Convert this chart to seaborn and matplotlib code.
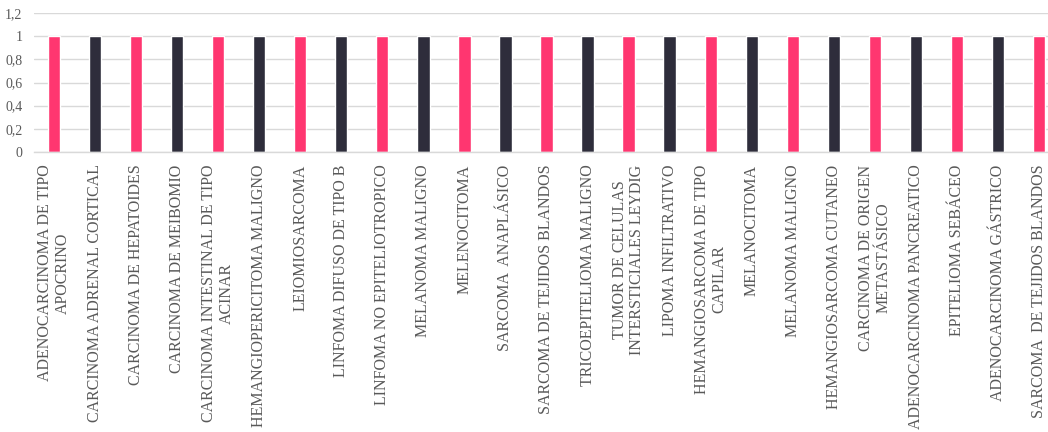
import matplotlib
matplotlib.use("Agg")
import matplotlib.pyplot as plt
import seaborn as sns
import numpy as np
import pandas as pd
from matplotlib.ticker import FuncFormatter

labels = [
    "ADENOCARCINOMA DE TIPO\nAPOCRINO",
    "CARCINOMA ADRENAL CORTICAL",
    "CARCINOMA DE HEPATOIDES",
    "CARCINOMA DE MEIBOMIO",
    "CARCINOMA INTESTINAL DE TIPO\nACINAR",
    "HEMANGIOPERICITOMA MALIGNO",
    "LEIOMIOSARCOMA",
    "LINFOMA DIFUSO DE TIPO B",
    "LINFOMA NO EPITELIOTROPICO",
    "MELANOMA MALIGNO",
    "MELENOCITOMA",
    "SARCOMA  ANAPLÁSICO",
    "SARCOMA DE TEJIDOS BLANDOS",
    "TRICOEPITELIOMA MALIGNO",
    "TUMOR DE CELULAS\nINTERSTICIALES LEYDIG",
    "LIPOMA INFILTRATIVO",
    "HEMANGIOSARCOMA DE TIPO\nCAPILAR",
    "MELANOCITOMA",
    "MELANOMA MALIGNO",
    "HEMANGIOSARCOMA CUTANEO",
    "CARCINOMA DE ORIGEN\nMETASTÁSICO",
    "ADENOCARCINOMA PANCREATICO",
    "EPITELIOMA SEBÁCEO",
    "ADENOCARCINOMA GÁSTRICO",
    "SARCOMA  DE TEJIDOS BLANDOS",
]
values = [1] * len(labels)
yticks = [0, 0.2, 0.4, 0.6, 0.8, 1.0, 1.2]

PINK = "#FF3670"
DARK = "#2E2D3B"
colors = [PINK if i % 2 == 0 else DARK for i in range(len(labels))]

sns.set_theme(style="white")
plt.rcParams["font.family"] = ["Liberation Serif", "DejaVu Serif"]
SERIF = ["Liberation Serif", "DejaVu Serif"]

df = pd.DataFrame({"pos": np.arange(len(labels)), "value": values})

fig = plt.figure(figsize=(10.48, 4.32), dpi=100)
ax = fig.add_axes([33.5 / 1048, 1 - 152 / 432, (1059.5 - 33.5) / 1048, (152 - 13) / 432])

sns.barplot(data=df, x="pos", y="value", hue="pos", palette=colors,
            legend=False, width=0.3, ax=ax, saturation=1)

ax.set_xlim(-0.5, len(labels) - 0.5)
ax.set_ylim(0, 1.2)
ax.set_yticks(yticks)
ax.yaxis.set_major_formatter(FuncFormatter(lambda v, p: f"{v:g}".replace(".", ",")))
ax.grid(axis="y", color="#D9D9D9", linewidth=1)
ax.set_axisbelow(True)
for s in ["top", "right", "left"]:
    ax.spines[s].set_visible(False)
ax.spines["bottom"].set_color("#D9D9D9")
ax.spines["bottom"].set_linewidth(1)

ax.set_xticks(range(len(labels)))
ax.set_xticklabels(labels, rotation=90, fontsize=11.5, color="#595959",
                   family=SERIF, ha="center", va="top",
                   multialignment="center", linespacing=1.15)
for t in ax.get_yticklabels():
    t.set_family(SERIF)
ax.tick_params(axis="x", length=0, pad=9)
ax.tick_params(axis="y", length=0, pad=8, labelsize=10, labelcolor="#595959")
ax.set_xlabel("")
ax.set_ylabel("")

fig.savefig("out.png", dpi=100)
